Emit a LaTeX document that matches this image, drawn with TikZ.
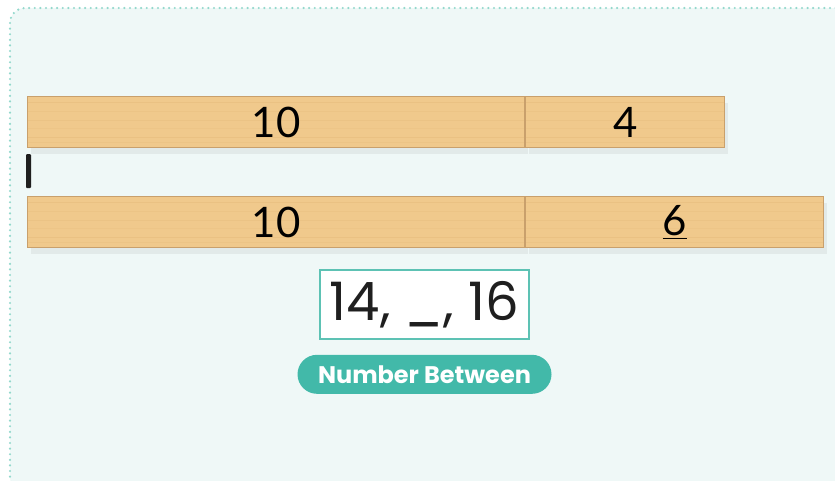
\documentclass[tikz,border=0pt]{standalone}
\usepackage{fontspec}
\setmainfont{Lato}
\newfontfamily\popfont{Poppins}
\usepackage{xcolor}
\usetikzlibrary{positioning,shadows}

\definecolor{bgmint}{HTML}{EFF8F7}
\definecolor{dotmint}{HTML}{93D8CC}
\definecolor{tealpill}{HTML}{42B9A9}
\definecolor{tealline}{HTML}{5DC2B4}
\definecolor{woodfill}{HTML}{F0C98C}
\definecolor{woodedge}{HTML}{C9A06C}
\definecolor{woodgrain}{HTML}{E2B676}

\begin{document}
\begin{tikzpicture}[
    x=1pt, y=-1pt,
    frame/.style={draw=dotmint, fill=bgmint, line width=2.4pt, dash pattern=on 0pt off 5.6pt, line cap=round, rounded corners=15pt},
    rod/.style={rectangle, draw=woodedge, line width=1.2pt, fill=woodfill, minimum height=51pt, inner sep=0pt, text centered,
        font=\fontsize{42}{46}\selectfont,
        drop shadow={shadow xshift=3pt, shadow yshift=-6pt, opacity=0.08, fill=black!70},
        path picture={
            \foreach \f/\o in {0.12/0.4, 0.3/0.25, 0.47/0.3, 0.62/0.2, 0.8/0.4, 0.9/0.25}
                \draw[woodgrain, opacity=\o, line width=1pt]
                    ([yshift=-\f*51pt]path picture bounding box.north west) -- ([yshift=-\f*51pt]path picture bounding box.north east);
        }},
    cursorbar/.style={rectangle, fill=black!88, minimum width=5pt, minimum height=34pt, inner sep=0pt, rounded corners=1pt},
    answerbox/.style={rectangle, draw=tealline, line width=1.2pt, fill=white, minimum width=209pt, minimum height=69pt, inner sep=0pt,
        font=\popfont\fontsize{53}{57}\selectfont, text=black!88},
    pill/.style={rectangle, fill=tealpill, rounded corners=19.5pt, minimum width=254pt, minimum height=39pt, inner sep=0pt,
        text=white, font=\popfont\bfseries\fontsize{24}{27}\selectfont}
]
\useasboundingbox (0,0) rectangle (835,480);

% Background card
\draw[frame] (10,8) rectangle (852,492);

% Top rods: 10 + 4
\node[rod, anchor=north west, minimum width=497pt] (tenA) at (27,96) {10};
\node[rod, right=0pt of tenA, minimum width=199pt] (four) {4};

% Cursor mark
\node[cursorbar] (cursor) at (28.5,171) {};

% Bottom rods: 10 + 6
\node[rod, anchor=north west, minimum width=497pt] (tenB) at (27,196) {10};
\node[rod, right=0pt of tenB, minimum width=298pt] (six) {\underline{6}};

% Sequence box and label
\node[answerbox] (seq) at (424.5,304.5) {14, \_, 16};
\node[pill, below=15pt of seq] (between) {Number Between};

\end{tikzpicture}
\end{document}
